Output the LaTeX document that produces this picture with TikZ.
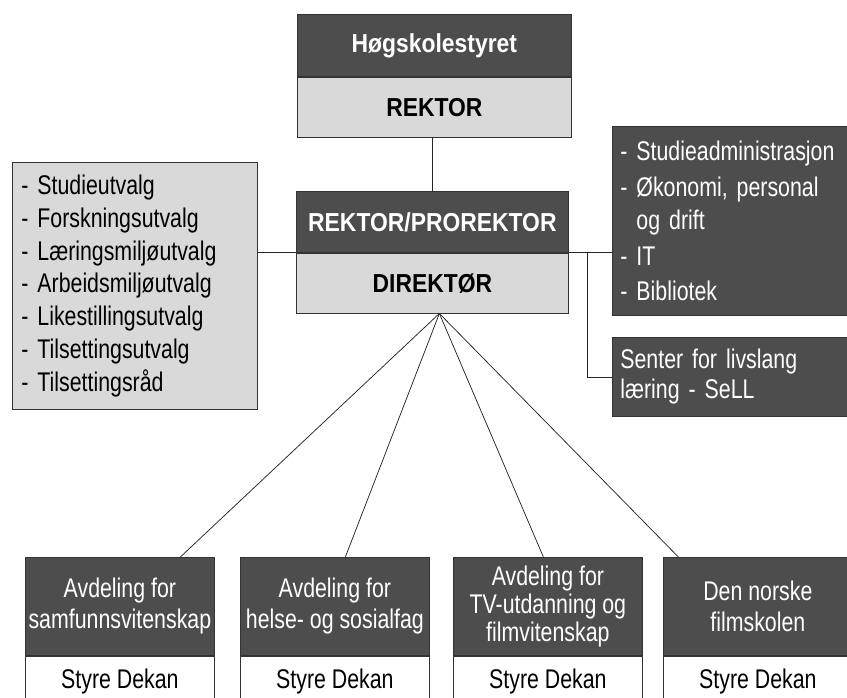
\documentclass[tikz,border=0pt]{standalone}
\usepackage{fontspec}
\setmainfont{Liberation Sans}[FakeStretch=0.79,BoldFeatures={FakeStretch=0.88}]
\definecolor{morkgraa}{HTML}{4D4D4D}
\definecolor{lysgraa}{HTML}{D9D9D9}

\begin{document}
\begin{tikzpicture}[x=1pt,y=-1pt,
    boks/.style={draw=black!80,line width=0.75pt,inner sep=0pt,anchor=north west,
      font=\fontsize{27}{31}\selectfont},
    mork/.style={boks,fill=morkgraa,text=white},
    lys/.style={boks,fill=lysgraa},
    hvit/.style={boks,fill=white},
    fet/.style={font=\fontsize{26}{31}\selectfont\bfseries},
    linje/.style={draw=black!85,line width=0.75pt}]
    \clip (0,0) rectangle (847,698);
    \node[mork,fet,minimum width=274,minimum height=62] (styr) at (297,14) {Høgskolestyret};
    \node[lys,fet,minimum width=274,minimum height=60] (rekt) at (styr.south west) {REKTOR};
    \node[mork,fet,minimum width=272,minimum height=61] (rektpro) at (296,191) {REKTOR/PROREKTOR};
    \node[lys,fet,minimum width=272,minimum height=60] (dir) at (rektpro.south west) {DIREKTØR};
    \node[lys,minimum height=247,inner xsep=9,text width=227,align=left,
      font=\fontsize{27}{32.8}\selectfont] (utvalg) at (12,162)
      {- Studieutvalg\\- Forskningsutvalg\\- Læringsmiljøutvalg\\- Arbeidsmiljøutvalg\\
       - Likestillingsutvalg\\- Tilsettingsutvalg\\- Tilsettingsråd};
    \node[mork,minimum height=189,inner xsep=8,text width=226,align=left,
      font=\fontsize{27}{33}\selectfont] (admin) at (612,126)
      {- Studieadministrasjon\\[3pt]- Økonomi, personal\\\phantom{- }og drift\\[3pt]- IT\\[2pt]- Bibliotek};
    \node[mork,minimum height=79,inner xsep=8,text width=226,align=left,
      font=\fontsize{27}{30}\selectfont] (sell) at (612,337) {Senter for livslang\\læring - SeLL};
    \node[mork,minimum width=189,minimum height=98,align=center] (av1) at (25,557) {Avdeling for\\samfunnsvitenskap};
    \node[hvit,minimum width=189,minimum height=50] (dek1) at (av1.south west) {Styre Dekan};
    \node[mork,minimum width=189,minimum height=98,align=center] (av2) at (240,557) {Avdeling for\\helse- og sosialfag};
    \node[hvit,minimum width=189,minimum height=50] (dek2) at (av2.south west) {Styre Dekan};
    \node[mork,minimum width=189,minimum height=98,align=center,
      font=\fontsize{27}{28}\selectfont] (av3) at (453,557) {Avdeling for\\TV-utdanning og\\filmvitenskap};
    \node[hvit,minimum width=189,minimum height=50] (dek3) at (av3.south west) {Styre Dekan};
    \node[mork,minimum width=189,minimum height=98,align=center] (av4) at (663,557) {Den norske\\filmskolen};
    \node[hvit,minimum width=189,minimum height=50] (dek4) at (av4.south west) {Styre Dekan};
    \draw[linje] (rektpro.north) -- (rektpro.north |- rekt.south);
    \draw[linje] (dir.north west) -- (dir.north west -| utvalg.east);
    \draw[linje] (dir.north east) -- (dir.north east -| admin.west);
    \draw[linje] ([xshift=19pt]dir.north east) |- (sell.west);
    \coordinate (nav) at ([xshift=7pt]dir.south);
    \draw[linje] (nav) -- ([xshift=60.5pt]av1.north);
    \draw[linje] (nav) -- ([xshift=10.5pt]av2.north);
    \draw[linje] (nav) -- ([xshift=-4.5pt]av3.north);
    \draw[linje] (nav) -- ([xshift=-79.5pt]av4.north);
  \end{tikzpicture}
\end{document}
